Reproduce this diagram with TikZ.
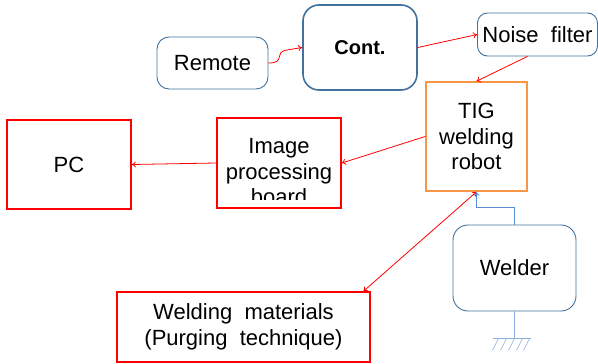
\documentclass[tikz,border=0pt]{standalone}
\usepackage{fontspec}
\setmainfont{Liberation Sans}
\usetikzlibrary{arrows.meta}
\definecolor{boxblue}{HTML}{41719C}
\definecolor{linkblue}{HTML}{5B8BD0}
\definecolor{robotorange}{HTML}{F79646}
\begin{document}
\begin{tikzpicture}[x=1pt,y=-1pt,
    font=\fontsize{22}{25.5}\selectfont,
    bluebox/.style={draw=boxblue,rounded corners=12pt,line width=0.9pt,align=center,inner sep=0pt},
    redbox/.style={draw=red,line width=1.6pt,align=center,inner sep=0pt},
    link/.style={draw=red,line width=0.8pt,-{To[length=4pt,width=6pt]}},
    feed/.style={draw=linkblue,line width=0.9pt}]
  \useasboundingbox (0,0) rectangle (598,364);
  % control side
  \node[bluebox,minimum width=111,minimum height=52] (rem) at (212.5,63) {Remote};
  \node[bluebox,minimum width=114,minimum height=85,line width=1.6pt,rounded corners=16pt,
        font=\fontsize{20}{24}\selectfont\bfseries] (cont) at (360,47.5) {Cont.};
  \node[bluebox,minimum width=120,minimum height=43,rounded corners=10pt] (nf) at (537.5,34.5) {Noise\ \ filter};
  \node[draw=robotorange,line width=1.6pt,minimum width=101,minimum height=109,align=center] (tig) at (476.5,136.5) {TIG\\welding\\robot};
  % vision side
  \node[redbox,minimum width=124,minimum height=89] (pc) at (69,164.5) {PC};
  \node[redbox,minimum width=124,minimum height=90] (ipb) at (279,163) {};
  \begin{scope}
    \clip (217,118) rectangle (341,199);
    \node[align=center] at (279,172) {Image\\processing\\board};
  \end{scope}
  \node[redbox,minimum width=253,minimum height=70] (wm) at (243.5,327) {Welding\ \ materials\\(Purging\ \ technique)};
  \node[bluebox,minimum width=123,minimum height=86,rounded corners=15pt] (weld) at (514.5,268) {Welder};
  % signal links
  \draw[link] (rem.east) .. controls +(18,0) and +(-14,2) .. (287,50) -- (cont.west);
  \draw[link] (cont.east) -- (nf.west);
  \draw[link] ([xshift=-10pt]nf.south) -- (tig.north);
  \draw[link] (tig.west) -- (ipb.east);
  \draw[link] (ipb.west) -- (pc.east);
  \draw[link,{To[length=4pt,width=6pt]}-{To[length=4pt,width=6pt]}] ([xshift=120pt]wm.north) -- (tig.south);
  % welder supply and ground
  \draw[feed,-{To[length=4pt,width=6pt]}] (weld.north) -- ++(0,-17) -| (tig.south);
  \draw[feed,draw=linkblue!70] (weld.south) -- ++(0,27) coordinate (gnd);
  \draw[feed,draw=linkblue!70] ([xshift=-22pt]gnd) -- ([xshift=16pt]gnd);
  \foreach \dx in {-16,-8,0,8,15}
    \draw[feed,draw=linkblue!70,line width=0.6pt] ([xshift=\dx pt]gnd) -- ++(-6,12);
\end{tikzpicture}
\end{document}
